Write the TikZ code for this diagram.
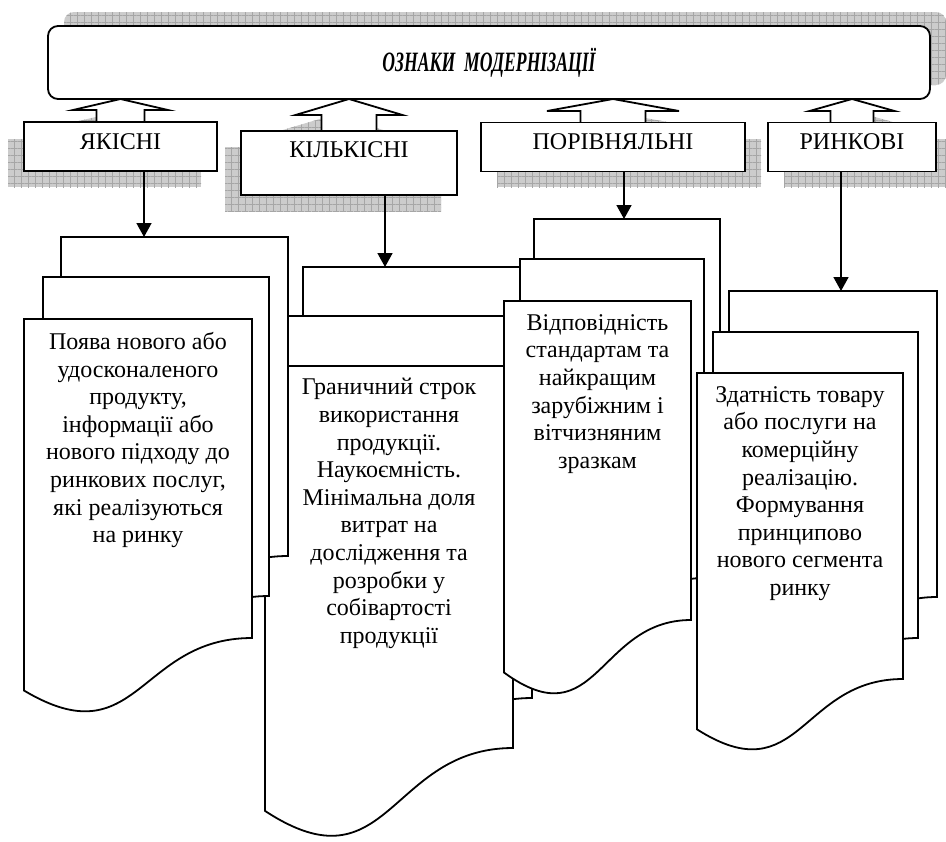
\documentclass[tikz,border=0pt]{standalone}
\usepackage{fontspec}
\setmainfont{Liberation Serif}
\usepackage{graphicx}
\usetikzlibrary{arrows.meta,positioning,calc,patterns.meta}

\tikzset{shd/.style={fill=gray!40,draw=none,
    postaction={pattern={Hatch[angle=0,distance=3.5pt,line width=0.3pt]},pattern color=gray!70}}}

% one sheet of a stacked document: left, top, right, height to the right corner
\newcommand{\docpage}[4]{%
  \draw[pg] (#1,#2) -- (#3,#2) -- (#3,{#2+#4})
    .. controls ({(#1+#3)/2},{#2+#4}) and ({(#1+#3)/2},{#2+1.3778*#4}) .. (#1,{#2+1.1646*#4}) -- cycle;}
% hollow up arrow: x, tip y, wing y, half head, half shaft, bottom y
\newcommand{\blockup}[7][]{%
  \draw[blk,#1] (#2,#3) -- ({#2+#5},#4) -- ({#2+#6},#4) -- ({#2+#6},#7)
    -- ({#2-#6},#7) -- ({#2-#6},#4) -- ({#2-#5},#4) -- cycle;}

\begin{document}
\begin{tikzpicture}[x=0.5pt,y=-0.5pt,
  pg/.style={draw,line width=0.9pt,fill=white},
  blk/.style={draw,line width=0.9pt,fill=white},
  cat/.style={draw,line width=0.9pt,fill=white,inner sep=0pt,font=\fontsize{12}{13.8}\selectfont},
  txt/.style={anchor=north,align=center,inner sep=0pt,font=\fontsize{12}{13.8}\selectfont},
  arr/.style={line width=0.8pt,-{Triangle[length=7pt,width=7.5pt]}}]
\useasboundingbox (0,0) rectangle (946,841);

% shadows
\fill[shd,rounded corners=5pt] (64,12) rectangle (946,85);
\fill[shd] (8,139) rectangle (201,187);
\fill[shd] (225,147) rectangle (441,211);
\fill[shd] (497,139) rectangle (761,187);
\fill[shd] (784,139) rectangle (952,187);
\blockup[shd,shift={(-16,16)}]{120.5}{99}{110}{47.5}{24}{122}
\blockup[shd,shift={(-16,16)}]{349}{99}{115}{53.5}{27.5}{131}
\blockup[shd,shift={(16,16)}]{613}{99}{111}{66}{32.5}{123}
\blockup[shd,shift={(16,16)}]{852}{99}{111}{42.5}{21.5}{123}

\node[draw,line width=0.9pt,rounded corners=5pt,fill=white,minimum width=441pt,minimum height=36.5pt,inner sep=0pt,
  font=\fontsize{14}{16}\selectfont\bfseries\itshape] (top) at (489,62.5)
  {\scalebox{0.63}[1]{ОЗНАКИ\ \ МОДЕРНІЗАЦІЇ}};

\blockup{120.5}{99}{110}{47.5}{24}{122}
\blockup{349}{99}{115}{53.5}{27.5}{131}
\blockup{613}{99}{111}{66}{32.5}{123}
\blockup{852}{99}{111}{42.5}{21.5}{123}

\node[cat,minimum width=96.5pt,minimum height=24.5pt,text depth=5pt] (yak) at (120.5,146.5) {ЯКІСНІ};
\node[cat,minimum width=108pt,minimum height=32pt,text depth=13pt] (kil) at (349,163) {КІЛЬКІСНІ};
\node[cat,minimum width=132pt,minimum height=24.5pt,text depth=5pt] (por) at (613,147) {ПОРІВНЯЛЬНІ};
\node[cat,minimum width=84pt,minimum height=24.5pt,text depth=5pt] (rin) at (852,147) {РИНКОВІ};

% stacks of documents
\docpage{303}{267}{551}{382}
\docpage{284}{316}{532}{382}
\docpage{265}{366}{513}{382}
\coordinate (kil-in) at (385,267);
\node[txt] (tkil) at (389,378) {Граничний строк\\використання\\продукції.\\Наукоємність.\\Мінімальна доля\\витрат на\\дослідження та\\розробки у\\собівартості\\продукції};

\docpage{61}{237}{288}{319}
\docpage{43}{277}{269}{319}
\docpage{24}{319}{252}{319}
\coordinate (yak-in) at (144,237);
\node[txt] (tyak) at (138,332) {Поява нового або\\удосконаленого\\продукту,\\інформації або\\нового підходу до\\ринкових послуг,\\які реалізуються\\на ринку};

\docpage{534}{219}{720}{319}
\docpage{520}{259}{704}{319}
\docpage{504}{301}{691}{319}
\coordinate (por-in) at (624,219);
\node[txt] (tpor) at (597.5,314) {Відповідність\\стандартам та\\найкращим\\зарубіжним і\\вітчизняним\\зразкам};

\docpage{729}{291}{937}{306}
\docpage{713}{332}{918}{306}
\docpage{697}{373}{903}{306}
\coordinate (rin-in) at (841,291);
\node[txt] (trin) at (800,386) {Здатність товару\\або послуги на\\комерційну\\реалізацію.\\Формування\\принципово\\нового сегмента\\ринку};

\foreach \n in {yak,kil,por,rin} \draw[arr] (\n.south -| \n-in) -- (\n-in);
\end{tikzpicture}
\end{document}
